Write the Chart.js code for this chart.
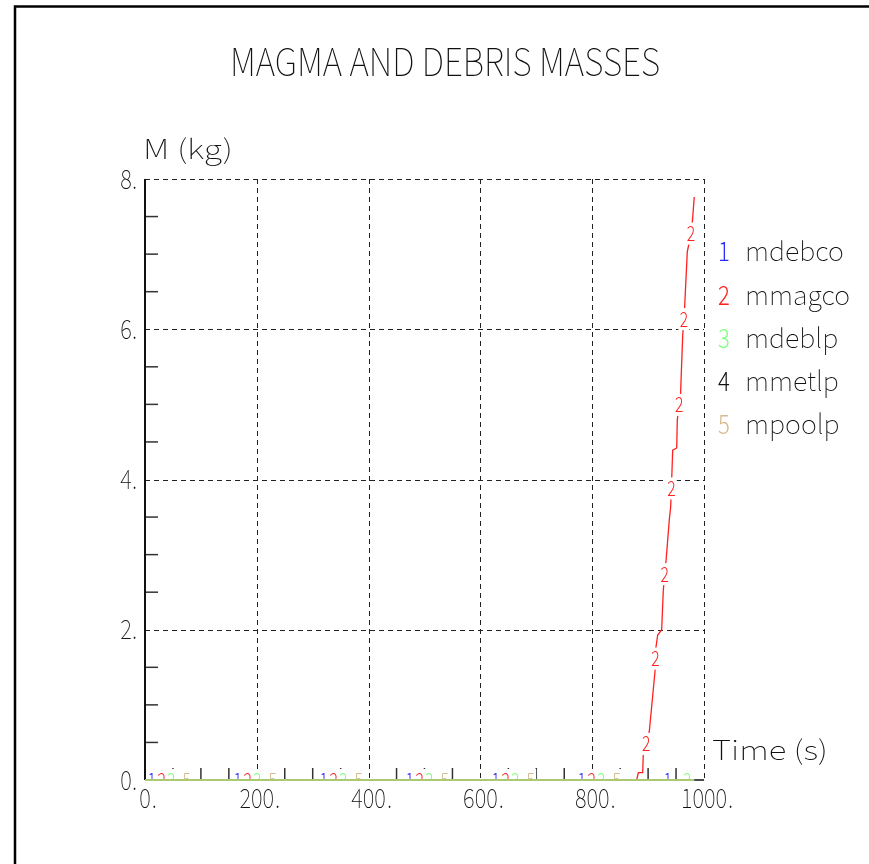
<!DOCTYPE html>
<html><head><meta charset="utf-8">
<script src="https://cdn.jsdelivr.net/npm/chart.js@4/dist/chart.umd.min.js"></script>
<style>html,body{margin:0;padding:0;background:#fff;overflow:hidden}canvas{display:block}</style>
</head><body>
<canvas id="c" width="869" height="864"></canvas>
<script>
// ---- data ----
const chartTitle = 'MAGMA AND DEBRIS MASSES';
const yTitle = 'M (kg)';
const xTitle = 'Time (s)';
const seriesIds = ['1','2','3','4','5'];
const seriesNames = ['mdebco','mmagco','mdeblp','mmetlp','mpoolp'];
const xTicks = [0, 200, 400, 600, 800, 1000];
const yTicks = [0, 2, 4, 6, 8];
const timeFlat = [0, 982.6];
const mdebco = [0, 0];
const mdeblp = [0, 0];
const mmetlp = [0, 0];
const mpoolp = [0, 0];
const timeMag = [0, 879.6, 882.5, 890.3, 891.4, 902.1, 912.3, 914.1, 917.2, 924.3, 927.2, 932.0, 937.9, 940.4, 942.2, 944.0, 951.2, 952.2, 957.1, 958.3, 961.9, 964.8, 970.1, 978.0, 982.6];
const mmagco = [0, 0, 0.097, 0.097, 0.333, 0.643, 1.44, 1.77, 1.93, 2.0, 2.53, 2.91, 3.46, 3.64, 4.0, 4.39, 4.42, 4.79, 5.08, 5.19, 5.92, 6.21, 7.03, 7.32, 7.76];

// ---- styles ----
const markColors = ['#2a2aff', '#ff2020', '#7dff7d', '#000000', '#d6b98c'];
const lineColors = ['#2a2aff', '#ff2020', '#8cf07a', '#000000', 'rgba(196,170,110,0.55)'];
const lineWidths = [2, 1.3, 2, 2, 2];
const FONT = '"Noto Sans CJK SC", "Noto Sans", sans-serif';
const TXT = '#111';

function pts(xs, ys) { return xs.map((t, i) => ({ x: t, y: ys[i] })); }
const seriesData = [pts(timeFlat, mdebco), pts(timeMag, mmagco), pts(timeFlat, mdeblp), pts(timeFlat, mmetlp), pts(timeFlat, mpoolp)];

function txt(ctx, s, x, y, size, sx, align, color, weight) {
  ctx.save();
  ctx.font = (weight || '100') + ' ' + size + 'px ' + FONT;
  const w = ctx.measureText(s).width * sx;
  const x0 = align === 'center' ? x - w / 2 : align === 'right' ? x - w : x;
  ctx.translate(x0, y + 0.36 * size);
  ctx.scale(sx, 1);
  ctx.textAlign = 'left'; ctx.textBaseline = 'alphabetic';
  ctx.fillStyle = color || TXT;
  ctx.fillText(s, 0, 0);
  ctx.restore();
  return w;
}
function fitSx(ctx, s, size, target, weight) {
  ctx.save(); ctx.font = (weight || '100') + ' ' + size + 'px ' + FONT;
  const w = ctx.measureText(s).width; ctx.restore();
  return target / w;
}

const decor = {
  id: 'decor',
  beforeDatasetsDraw(chart) {
    const { ctx, chartArea: a, scales: { x, y } } = chart;
    ctx.save();
    // dashed grid
    ctx.strokeStyle = '#222'; ctx.lineWidth = 1; ctx.setLineDash([5, 4]);
    xTicks.forEach(v => { if (v === 0) return; const px = Math.round(x.getPixelForValue(v)) + 0.5; ctx.beginPath(); ctx.moveTo(px, a.top); ctx.lineTo(px, a.bottom); ctx.stroke(); });
    yTicks.forEach(v => { if (v === 0) return; const py = Math.round(y.getPixelForValue(v)) + 0.5; ctx.beginPath(); ctx.moveTo(a.left, py); ctx.lineTo(a.right, py); ctx.stroke(); });
    ctx.setLineDash([]);
    // minor ticks
    ctx.strokeStyle = '#333'; ctx.lineWidth = 1.5;
    for (let v = 50; v < 1000; v += 50) {
      if (v % 200 === 0) continue;
      const px = x.getPixelForValue(v);
      ctx.beginPath(); ctx.moveTo(px, a.bottom); ctx.lineTo(px, a.bottom - 12); ctx.stroke();
    }
    for (let v = 0.5; v < 8; v += 0.5) {
      if (v % 2 === 0) continue;
      const py = y.getPixelForValue(v);
      ctx.beginPath(); ctx.moveTo(a.left, py); ctx.lineTo(a.left + 13, py); ctx.stroke();
    }
    // axes
    ctx.strokeStyle = '#111'; ctx.lineWidth = 2;
    ctx.beginPath(); ctx.moveTo(a.left, a.top); ctx.lineTo(a.left, a.bottom); ctx.stroke();
    ctx.lineWidth = 1.5;
    ctx.beginPath(); ctx.moveTo(a.left, a.bottom); ctx.lineTo(a.right, a.bottom); ctx.stroke();
    ctx.restore();
  },
  afterDatasetsDraw(chart) {
    const { ctx, chartArea: a } = chart;
    const offsets = [6.7, 16.7, 26.3, 40, 41.7];
    const step = 86;
    ctx.save();
    ctx.beginPath(); ctx.rect(a.left + 1, a.top - 20, a.right - a.left + 20, a.bottom - a.top + 19); ctx.clip();
    chart.data.datasets.forEach((ds, i) => {
      const p = chart.getDatasetMeta(i).data.map(e => ({ x: e.x, y: e.y }));
      let target = offsets[i], acc = 0;
      for (let k = 1; k < p.length; k++) {
        const dx = p[k].x - p[k - 1].x, dy = p[k].y - p[k - 1].y;
        const L = Math.hypot(dx, dy);
        while (L > 0 && target <= acc + L) {
          const f = (target - acc) / L;
          const mx = p[k - 1].x + dx * f, my = p[k - 1].y + dy * f;
          ctx.fillStyle = '#fff';
          ctx.fillRect(mx - 5.5, my - 11, 11, 22);
          txt(ctx, seriesIds[i], mx, my, 21, 0.75, 'center', markColors[i], '300');
          target += step;
        }
        acc += L;
      }
    });
    ctx.restore();
  },
  afterDraw(chart) {
    const { ctx, scales: { x, y } } = chart;
    // frame
    ctx.save();
    ctx.strokeStyle = '#000'; ctx.lineWidth = 2.5;
    ctx.beginPath(); ctx.moveTo(15, 870); ctx.lineTo(15, 6.5); ctx.lineTo(875, 6.5); ctx.stroke();
    ctx.restore();
    // titles
    txt(ctx, chartTitle, 445, 62, 38, fitSx(ctx, chartTitle, 38, 430), 'center');
    txt(ctx, yTitle, 143, 149, 27, fitSx(ctx, yTitle, 27, 90), 'left');
    txt(ctx, xTitle, 712, 750, 27, fitSx(ctx, xTitle, 27, 116), 'left');
    // y tick labels
    yTicks.forEach(v => txt(ctx, v + '.', 137, y.getPixelForValue(v), 27, 0.82, 'right'));
    // x tick labels: digits centred on tick, period trailing
    xTicks.forEach(v => {
      const s = String(v);
      const w = txt(ctx, s, x.getPixelForValue(v), 798, 27, 0.82, 'center');
      txt(ctx, '.', x.getPixelForValue(v) + w / 2 + 1, 798, 27, 0.82, 'left');
    });
    // legend
    const ly = [251, 295, 338, 381, 424];
    seriesNames.forEach((n, i) => {
      txt(ctx, seriesIds[i], 718, ly[i], 27, 0.82, 'left', markColors[i] === '#000000' ? TXT : markColors[i], '300');
      txt(ctx, n, 745, ly[i], 27, 1.0, 'left');
    });
  }
};

// higher order = drawn first (underneath)
const ordering = [4, 3, 2, 5, 1];
new Chart(document.getElementById('c'), {
  type: 'line',
  data: {
    datasets: seriesData.map((d, i) => ({
      label: seriesNames[i], data: d, borderColor: lineColors[i], borderWidth: lineWidths[i],
      pointRadius: 0, tension: 0, fill: false, order: ordering[i], clip: 3
    }))
  },
  options: {
    responsive: false, animation: false, devicePixelRatio: 1,
    layout: { padding: { left: 145, right: 165, top: 179, bottom: 84 } },
    plugins: { legend: { display: false }, title: { display: false }, tooltip: { enabled: false } },
    scales: {
      x: { type: 'linear', min: 0, max: 1000, display: false },
      y: { type: 'linear', min: 0, max: 8, display: false }
    }
  },
  plugins: [decor]
});
</script>
</body></html>
